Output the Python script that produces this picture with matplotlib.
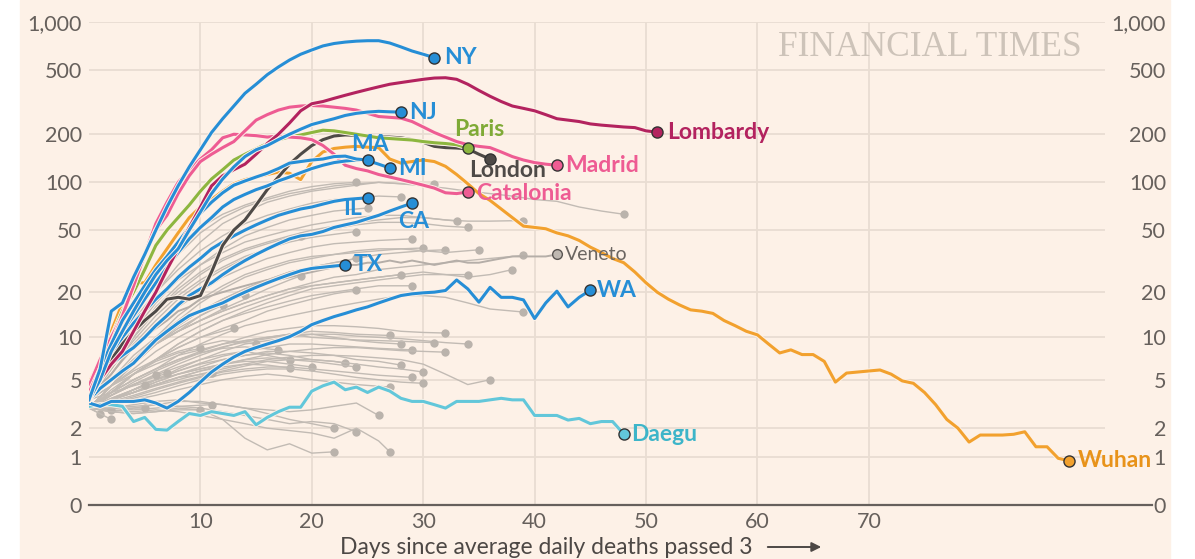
import numpy as np
import matplotlib
matplotlib.use("Agg")
import matplotlib.pyplot as plt
import matplotlib.patheffects as pe
from matplotlib.patches import Rectangle

plt.rcParams['font.family'] = ['Lato', 'DejaVu Sans']

CREAM = "#FDF1E7"
GRID = "#E9DDD2"
TICK = "#66605C"
BLUE = "#268ED6"

# daily values (day 0, 1, 2, ...) for the highlighted places
ny = [3.5, 6, 15, 17, 25, 35, 50, 70, 95, 125, 160, 205, 250, 300, 360, 410, 470, 525, 580, 630,
      670, 710, 735, 750, 760, 765, 765, 740, 700, 660, 630, 600]
nj = [3.5, 5, 8, 11, 15, 20, 26, 32, 38, 50, 65, 85, 105, 125, 145, 160, 170, 185, 200, 215,
      230, 240, 250, 262, 270, 275, 278, 276, 275]
ma = [3.5, 6, 9, 13, 17, 22, 28, 34, 42, 52, 64, 75, 86, 96, 102, 108, 114, 122, 132, 135,
      138, 140, 145, 146, 140, 138]
mi = [3.5, 5.5, 8, 11, 14, 18, 23, 29, 36, 44, 52, 60, 70, 78, 84, 90, 95, 102, 108, 115,
      122, 128, 133, 136, 138, 137, 130, 123]
il = [3.5, 5.5, 7.5, 10, 12.5, 15, 18, 21, 25, 29, 33, 38, 42, 46, 50, 54, 58, 62, 65, 68,
      70, 73, 76, 78, 79, 80]
ca = [3.5, 5, 6.5, 7.5, 8.5, 10, 12, 14, 16.5, 19, 21, 23, 26, 29, 32, 35, 38, 41, 44, 46,
      47, 49, 52, 54, 56, 59, 62, 66, 70, 74]
tx = [3.5, 4.3, 5, 5.8, 6.6, 8, 9.6, 11, 12.5, 14, 15, 16, 17, 18.5, 20, 21.5, 23, 24.5, 26, 27.5,
      28.5, 29, 29.5, 30]
wa = [3.3, 3.1, 3.4, 3.4, 3.4, 3.5, 3.3, 3.0, 3.4, 4.0, 4.8, 5.7, 6.5, 7.3, 8.0, 8.5, 9.0, 9.5, 10.1, 11,
      12.2, 13, 13.8, 14.5, 15.3, 16, 17, 18, 19, 19.5, 19.8, 20, 20.5, 24, 21, 17.2, 21.5, 18.5, 18.5, 17.8,
      13.4, 17, 20.3, 16, 18.5, 20.6]
lombardy = [3.5, 5, 6.5, 8, 11, 15, 20, 28, 38, 52, 70, 95, 110, 120, 130, 150, 175, 200, 235, 280,
            310, 320, 335, 350, 365, 380, 395, 410, 420, 430, 440, 448, 450, 440, 410, 375, 345, 320, 300, 290,
            280, 265, 250, 245, 240, 232, 228, 225, 222, 220, 210, 206]
madrid = [4, 6, 9, 14, 22, 35, 50, 62, 85, 110, 135, 150, 165, 180, 210, 245, 265, 283, 295, 300,
          302, 300, 295, 290, 283, 270, 258, 255, 252, 240, 222, 205, 192, 180, 172, 168, 165, 155, 145, 138,
          133, 130, 128]
catalonia = [4.5, 7, 10, 14, 22, 35, 55, 75, 100, 120, 140, 160, 190, 200, 198, 196, 192, 195, 192, 190,
             185, 170, 150, 128, 122, 118, 112, 108, 104, 100, 96, 92, 86, 85, 87]
paris = [4, 6, 10, 15, 20, 28, 40, 50, 60, 72, 88, 105, 120, 138, 150, 162, 175, 185, 192, 198,
         205, 212, 210, 205, 200, 195, 190, 188, 186, 184, 180, 177, 175, 172, 164]
london = [3.5, 5, 7, 9, 11, 13, 15, 18, 18.5, 18, 19, 27, 40, 50, 58, 72, 90, 108, 130, 150,
          170, 185, 195, 198, 197, 195, 193, 192, 190, 185, 178, 168, 165, 164, 162, 150, 140]
wuhan = [4.7, 7, 11, 17, 23, 23, 30, 38, 48, 60, 70, 78, 88, 98, 104, 108, 112, 116, 114, 104,
         135, 155, 163, 166, 168, 166, 165, 140, 132, 135, 138, 135, 126, 112, 98, 85, 77, 68, 60, 53,
         52, 51, 48, 46, 43, 39, 36, 33, 31, 27, 23, 20, 18, 16.5, 15.3, 15, 14.5, 13, 12, 11,
         10.4, 9, 7.8, 8.2, 7.6, 7.6, 6.8, 4.8, 5.6, 5.7, 5.8, 5.9, 5.5, 4.9, 4.7, 4, 3.2, 2.4, 2.0, 1.46,
         1.72, 1.72, 1.72, 1.75, 1.85, 1.3, 1.3, 0.95, 0.88]
daegu = [3.1, 3.2, 3.2, 3.1, 2.3, 2.5, 1.95, 1.92, 2.3, 2.7, 2.6, 2.8, 2.7, 2.6, 2.8, 2.15, 2.5, 2.8, 3.05, 3.05,
         4.1, 4.5, 4.8, 4.2, 4.4, 4.0, 4.4, 4.1, 3.6, 3.4, 3.4, 3.2, 3.0, 3.4, 3.4, 3.4, 3.5, 3.6, 3.5, 3.5,
         2.6, 2.6, 2.6, 2.37, 2.45, 2.2, 2.3, 2.3, 1.76]
veneto = [3.5, 4.5, 5.5, 7, 8.5, 10, 11.5, 13, 15, 16, 18, 19, 20, 21, 22, 23, 24, 24, 25, 26,
          27, 28, 29, 30, 30, 31, 31, 32, 31, 32, 31, 30, 31, 32, 31, 31, 32, 33, 34, 34,
          34, 34, 35]

# other regions: values every 2 days, last value sits on gray_end
gray_vals = [
    [3.5, 8, 15, 24, 35, 48, 60, 70, 78, 85, 90, 95, 98, 100, 98, 95, 92, 88, 85, 82, 78, 76, 70, 66, 63],
    [3.5, 7, 12, 20, 30, 42, 55, 65, 75, 82, 88, 92, 96, 100, 98, 97, 97],
    [4, 9, 17, 28, 40, 52, 63, 72, 80, 88, 94, 98, 100],
    [3.5, 7, 13, 20, 28, 37, 46, 55, 62, 68, 74, 78, 80, 82, 81],
    [3.5, 6, 10, 16, 22, 30, 38, 46, 52, 58, 62, 66, 68, 69],
    [3.5, 6, 10, 15, 21, 27, 33, 38, 42, 46, 50, 53, 56, 58, 60, 60, 58, 57, 57, 57.5],
    [3.5, 6.5, 11, 17, 24, 30, 36, 42, 46, 50, 54, 57, 60, 62, 62, 60, 57],
    [3.5, 6, 10, 15, 20, 26, 32, 37, 41, 45, 48, 51, 54, 56, 56, 55, 53, 52],
    [3.5, 6, 9.5, 14, 19, 24, 29, 34, 38, 42, 45, 47, 49],
    [3.5, 5.5, 9, 13, 18, 23, 28, 33, 38, 43, 46],
    [3.5, 5.5, 8.5, 12, 16, 20, 25, 29, 33, 36, 39, 41, 42, 43, 44],
    [3.5, 5, 7.5, 10, 13, 17, 21, 25, 28, 31, 33, 35, 36, 37, 38, 38.5],
    [3, 4.5, 7, 10, 14, 18, 22, 26, 29, 32, 34, 35, 37, 38, 38, 37, 37.5],
    [3.5, 5, 7, 9, 12, 15, 18, 21, 24, 27, 29, 31, 33, 35, 36, 37, 36, 37.5],
    [3, 4.5, 6.5, 9, 12, 15, 18, 21, 24, 27, 29, 31, 33],
    [3.5, 5, 7, 9, 11, 13, 15, 17, 19, 21, 23, 25, 26, 28, 29, 30, 31, 32, 33, 34.5],
    [3, 4, 5.5, 7, 9, 11, 13, 15, 17, 19, 21, 22, 23, 24, 25, 26, 26, 25, 26, 28],
    [3, 4.5, 6, 8, 10, 12, 14, 16, 18, 20, 22, 23, 24, 25, 26, 27, 26, 26],
    [3.5, 5, 7, 9, 11, 13, 15, 17, 19, 21, 22, 23, 24, 25, 26],
    [3, 4.5, 6.5, 9, 11, 13, 15.5, 18, 21, 24, 25.5],
    [3, 4, 5.5, 7, 9, 11, 13, 14.5, 16, 17.5, 19, 20, 21, 22, 22],
    [3, 4, 5.5, 7, 8.5, 10, 11.5, 13, 15, 16.5, 18, 19.5, 20.6],
    [3, 4.5, 6.5, 9, 11.5, 14, 17, 19.2],
    [3, 4.5, 6.5, 9, 11, 14, 16.5],
    [3, 4, 5, 6, 7.5, 9, 10.5, 12, 13, 14, 15, 16, 17, 18, 19, 19, 18.5, 17, 15.5, 14.8],
    [3, 4, 5.5, 7, 8.5, 10, 11.6],
    [3, 3.8, 4.8, 5.8, 6.8, 7.8, 8.6, 9.3, 9.8, 10.5, 11, 10.8, 10.5, 10.3],
    [3, 4, 5, 6, 7, 8, 9, 10, 11, 11.5, 12, 12, 11.8, 11.5, 11, 10.8, 10.7],
    [3, 3.8, 4.6, 5.5, 6.5, 7.5, 8.5, 9.5, 10, 10.5, 10.5, 10, 9.5, 9.2, 9],
    [3, 3.5, 4.2, 5, 6, 7, 8, 9, 9.5, 10, 10.5, 10.5, 10.2, 10, 9.8, 9.5, 9.2, 9],
    [3.5, 4.5, 5.5, 6.5, 7.5, 8.2, 9, 9.5, 10, 10.5, 10, 9.8, 9.6, 9.5, 9.4, 9.2],
    [3, 3.6, 4.2, 5, 5.8, 6.6, 7.4, 8, 8.5, 9, 9, 8.8, 8.6, 8.4, 8.2],
    [3, 3.5, 4, 4.6, 5.2, 5.8, 6.4, 7, 7.6, 8, 8.3, 8.5, 8.5, 8.3, 8.1, 8, 7.9],
    [3, 4, 5, 6, 7, 7.8, 8.4, 8.6, 8.2],
    [3, 4.2, 5.5, 6.8, 7.8, 8.4],
    [3.5, 4.5, 5.8, 7, 8, 8.8, 9.5, 9],
    [3, 3.8, 4.6, 5.4, 6.2, 7, 7.6, 8, 7.5, 7],
    [3, 3.5, 4, 4.6, 5.2, 5.8, 6.2, 6.5, 6.4, 6.1],
    [3, 3.6, 4.2, 4.8, 5.5, 6, 6.5, 6.8, 6.8, 6.5, 6.2],
    [3, 3.5, 4.2, 5, 5.8, 6.5, 7, 7.5, 7.8, 7.5, 7, 6.8, 6.6],
    [3.5, 4, 4.5, 5, 5.5, 6, 6.5, 7, 7.2, 7, 6.8, 6.5, 6.2],
    [3, 3.5, 4, 4.8, 5.5, 6.2, 7, 7.5, 8, 8, 7.8, 7.5, 7, 6.8, 6.4],
    [3, 3.4, 3.8, 4.3, 4.8, 5.3, 5.8, 6.3, 6.8, 7, 7, 6.8, 6.5, 6.2, 6, 5.7],
    [3, 3.3, 3.7, 4.2, 4.7, 5.2, 5.7, 6, 6.2, 6.2, 6, 5.8, 5.6, 5.4, 5.2],
    [3, 3.3, 3.6, 4, 4.5, 5, 5.5, 5.8, 6, 6, 5.8, 5.5, 5.2, 5, 4.8, 4.7],
    [3, 3.5, 4, 4.5, 5, 5.5, 6, 6.5, 7, 7.3, 7.5, 7.5, 7.4, 7.2, 7, 6.5, 5.5, 4.6, 5.0],
    [3, 3.2, 3.5, 3.8, 4.2, 4.6, 5, 5.3, 5.5, 5.3, 5, 4.8, 4.6, 4.4],
    [3, 3.5, 4, 4.6, 5.2, 5.6],
    [3, 3.8, 4.6, 5.6],
    [3, 3.8, 4.6, 5.4],
    [3, 3.5, 4.6],
    [3, 3, 3.2, 3.4, 3.5, 3.3, 3.2, 3, 2.9, 2.8, 2.9, 3.1, 3.3, 2.6],
    [3, 3, 3, 3.2, 3.4, 3.4, 3.2, 3, 2.7, 2.4, 2.2, 2.0],
    [3, 3, 2.9, 3, 3.1, 3, 2.8, 2.6, 2.4, 2.2, 2.3, 2.2, 1.85],
    [3, 2.8, 2.7, 2.8, 3, 2.9, 2.4, 1.6, 1.2, 1.4, 1.1, 1.14],
    [3, 2.9, 2.8, 2.9, 2.8, 2.6, 2.4, 2.2, 2, 1.9, 1.8, 1.6, 2.0, 1.5, 1.14],
    [3, 2.8, 3, 3.0],
    [3, 2.7],
    [3.2, 2.9],
    [3, 2.4],
    [3, 2.8, 2.7, 2.8, 2.9, 2.9],
    [3, 3, 3.1, 3.2, 3.1, 3.2],
]
gray_end = [48, 31, 24, 28, 25, 39, 33, 34, 24, 19, 29, 30, 32, 35, 24, 39, 38, 34, 28, 19,
            29, 24, 14, 12, 39, 13, 27, 32, 28, 34, 31, 29, 32, 17, 10, 15, 18, 18, 20, 23,
            24, 28, 30, 29, 30, 36, 27, 11, 7, 6, 5, 26, 22, 24, 22, 27, 5, 1, 2, 2, 10, 11]

yticks = [0, 1, 2, 5, 10, 20, 50, 100, 200, 500, 1000]
ylabels = ["0", "1", "2", "5", "10", "20", "50", "100", "200", "500", "1,000"]
xticks = [10, 20, 30, 40, 50, 60, 70]

# name, data, line colour, label colour, label offset (pt), label alignment
highlights = [
    ("Daegu", daegu, "#62C7DA", "#3DB5C9", (5, 0), "left"),
    ("WA", wa, BLUE, BLUE, (5, 0), "left"),
    ("TX", tx, BLUE, BLUE, (6, 0), "left"),
    ("CA", ca, BLUE, BLUE, (1, -13), "center"),
    ("IL", il, BLUE, BLUE, (-4, -8), "right"),
    ("Wuhan", wuhan, "#F2A12E", "#E8931A", (6, 0), "left"),
    ("London", london, "#4E4A47", "#4E4A47", (-15, -8), "left"),
    ("Paris", paris, "#8DB63F", "#7FAA36", (-10, 13), "left"),
    ("Catalonia", catalonia, "#EE5C93", "#EE5C93", (6, -1), "left"),
    ("Madrid", madrid, "#EE5C93", "#EE5C93", (6, 0), "left"),
    ("MI", mi, BLUE, BLUE, (6, 0), "left"),
    ("MA", ma, BLUE, BLUE, (2, 11), "center"),
    ("Lombardy", lombardy, "#B3235F", "#B3235F", (7, 0), "left"),
    ("NJ", nj, BLUE, BLUE, (6, 0), "left"),
    ("NY", ny, BLUE, BLUE, (7, 0), "left"),
]

fig = plt.figure(figsize=(11.95, 5.59), dpi=100)
fig.patch.set_facecolor("white")
fig.add_artist(Rectangle((20 / 1195, 0), 1150 / 1195, 1, transform=fig.transFigure,
                         color=CREAM, zorder=-10))

ax = fig.add_axes([89 / 1195, 54 / 559, 1016 / 1195, 483 / 559])
ax.set_facecolor("none")


def fwd(v):
    return np.log10(1 + np.asarray(v, dtype=float))


def inv(t):
    return 10 ** np.asarray(t, dtype=float) - 1


ax.set_yscale("function", functions=(fwd, inv))
ax.set_ylim(0, 1000)
ax.set_xlim(0, 91.2)

# background regions
for vals, end in zip(gray_vals, gray_end):
    days = list(range(0, 2 * (len(vals) - 1), 2))[:len(vals) - 1] + [end]
    ax.plot(days, vals, color="#C2BBB4", lw=1.0, zorder=2, solid_joinstyle="round")
    ax.plot(days[-1], vals[-1], "o", color="#BAB3AC", ms=6, mec="none", zorder=2)

# Veneto
vd = np.arange(len(veneto))
ax.plot(vd, veneto, color="#B5AEA8", lw=1.4, zorder=3)
ax.plot(vd[-1], veneto[-1], "o", color="#BFB8B1", ms=7, mec="#5A5552", mew=1, zorder=3)
ax.annotate("Veneto", (vd[-1], veneto[-1]), xytext=(6, 0), textcoords="offset points",
            va="center", ha="left", fontsize=14, color="#6B6561", zorder=40)

for i, (name, vals, col, lcol, off, ha) in enumerate(highlights):
    d = np.arange(len(vals))
    ax.plot(d, vals, color=col, lw=2.2, zorder=5 + i, solid_joinstyle="round",
            path_effects=[pe.withStroke(linewidth=3.6, foreground=CREAM)])
    ax.plot(d[-1], vals[-1], "o", color=col, ms=8, mec="#333333", mew=1, zorder=30)
    ax.annotate(name, (d[-1], vals[-1]), xytext=off, textcoords="offset points",
                va="center", ha=ha, fontsize=16.5, fontweight="bold", color=lcol, zorder=31)

ax.set_yticks(yticks, ylabels)
ax.set_xticks(xticks)
ax.tick_params(axis="both", length=0, labelsize=15.5, labelcolor=TICK)
ax.tick_params(axis="y", pad=5)
ax.tick_params(axis="x", pad=5)
ax.grid(True, color=GRID, lw=1.3, zorder=0)
ax.set_axisbelow(True)
for s in ax.spines.values():
    s.set_visible(False)
ax.axhline(0, xmin=0, xmax=1.046, color=TICK, lw=1.6, clip_on=False, zorder=4)

ax2 = ax.twinx()
ax2.set_yscale("function", functions=(fwd, inv))
ax2.set_ylim(0, 1000)
ax2.set_yticks(yticks, ylabels, ha="right")
ax2.tick_params(axis="y", length=0, labelsize=15.5, labelcolor=TICK, pad=44)
for s in ax2.spines.values():
    s.set_visible(False)

fig.text(340 / 1195, 1 - 547 / 559, "Days since average daily deaths passed 3",
         fontsize=16.5, color="#4D4845", ha="left", va="center")
ax.annotate("", xy=(824 / 1195, 1 - 547 / 559), xytext=(765 / 1195, 1 - 547 / 559),
            xycoords="figure fraction", textcoords="figure fraction",
            arrowprops=dict(arrowstyle="-|>", color="#4D4845", lw=1.4, mutation_scale=14))

fig.text(778 / 1195, 1 - 47 / 559, "FINANCIAL TIMES", family="Liberation Serif",
         fontsize=25.5, color="#CDC3B9", ha="left", va="center")

fig.savefig("out.png", dpi=100, facecolor=fig.get_facecolor())
